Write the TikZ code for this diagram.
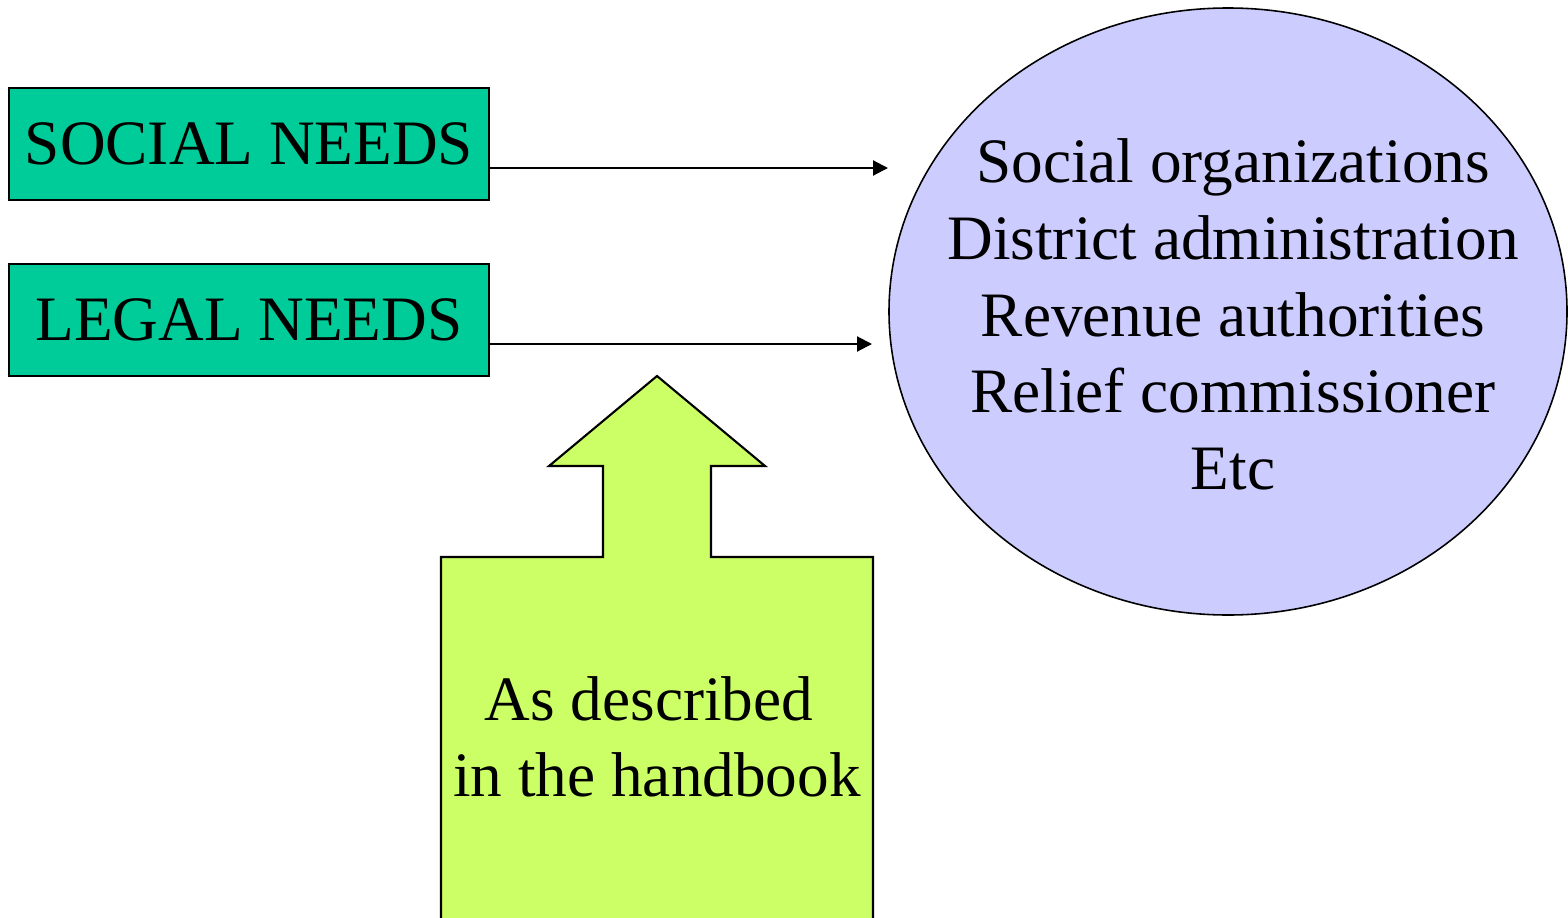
\documentclass[tikz,border=0pt]{standalone}
\usepackage{fontspec}
\setmainfont{Liberation Serif}
\usetikzlibrary{shapes.geometric, arrows.meta, positioning}
\definecolor{cTeal}{HTML}{00CC99}
\definecolor{cLavender}{HTML}{CCCCFF}
\definecolor{cLime}{HTML}{CCFF66}

\begin{document}
\begin{tikzpicture}[
    needbox/.style={draw, line width=0.7pt, fill=cTeal, minimum width=4.80cm,
      minimum height=1.12cm, inner sep=0pt, font=\fontsize{18}{21.6}\selectfont},
    link/.style={line width=0.6pt, -{Triangle[length=0.15cm, width=0.15cm]}},
    bigtext/.style={align=center, font=\fontsize{18}{21.8}\selectfont}
  ]
    \useasboundingbox (0,0) rectangle (15.68,9.17);
    \clip (0,0) rectangle (15.68,9.17);
    % needs on the left
    \node[needbox] (social) at (2.49,7.73) {SOCIAL NEEDS};
    \node[needbox] (legal) at (2.49,5.97) {LEGAL NEEDS};
    % agencies
    \node[ellipse, draw, line width=0.45pt, fill=cLavender, minimum width=6.78cm,
      minimum height=6.07cm, inner sep=0pt] (agencies) at (12.28,6.055) {};
    \node[bigtext, xshift=0.05cm, yshift=-0.03cm] (agencyList) at (agencies.center)
      {Social organizations\\District administration\\Revenue authorities\\
       Relief commissioner\\Etc};
    \coordinate (socEnd) at (8.88,7.49);
    \coordinate (legEnd) at (8.72,5.73);
    \draw[link] (social.east |- socEnd) -- (socEnd);
    \draw[link] (legal.east |- legEnd) -- (legEnd);
    % block arrow from the handbook
    \draw[line width=0.6pt, fill=cLime]
      (6.57,5.41) -- (7.65,4.51) -- (7.11,4.51) -- (7.11,3.60) -- (8.73,3.60)
      -- (8.73,-0.2) -- (4.41,-0.2) -- (4.41,3.60) -- (6.03,3.60) -- (6.03,4.51)
      -- (5.49,4.51) -- cycle;
    \node[bigtext] (handbook) at (6.57,1.80) {As described\hspace*{0.16cm}\\in the handbook};
  \end{tikzpicture}
\end{document}
